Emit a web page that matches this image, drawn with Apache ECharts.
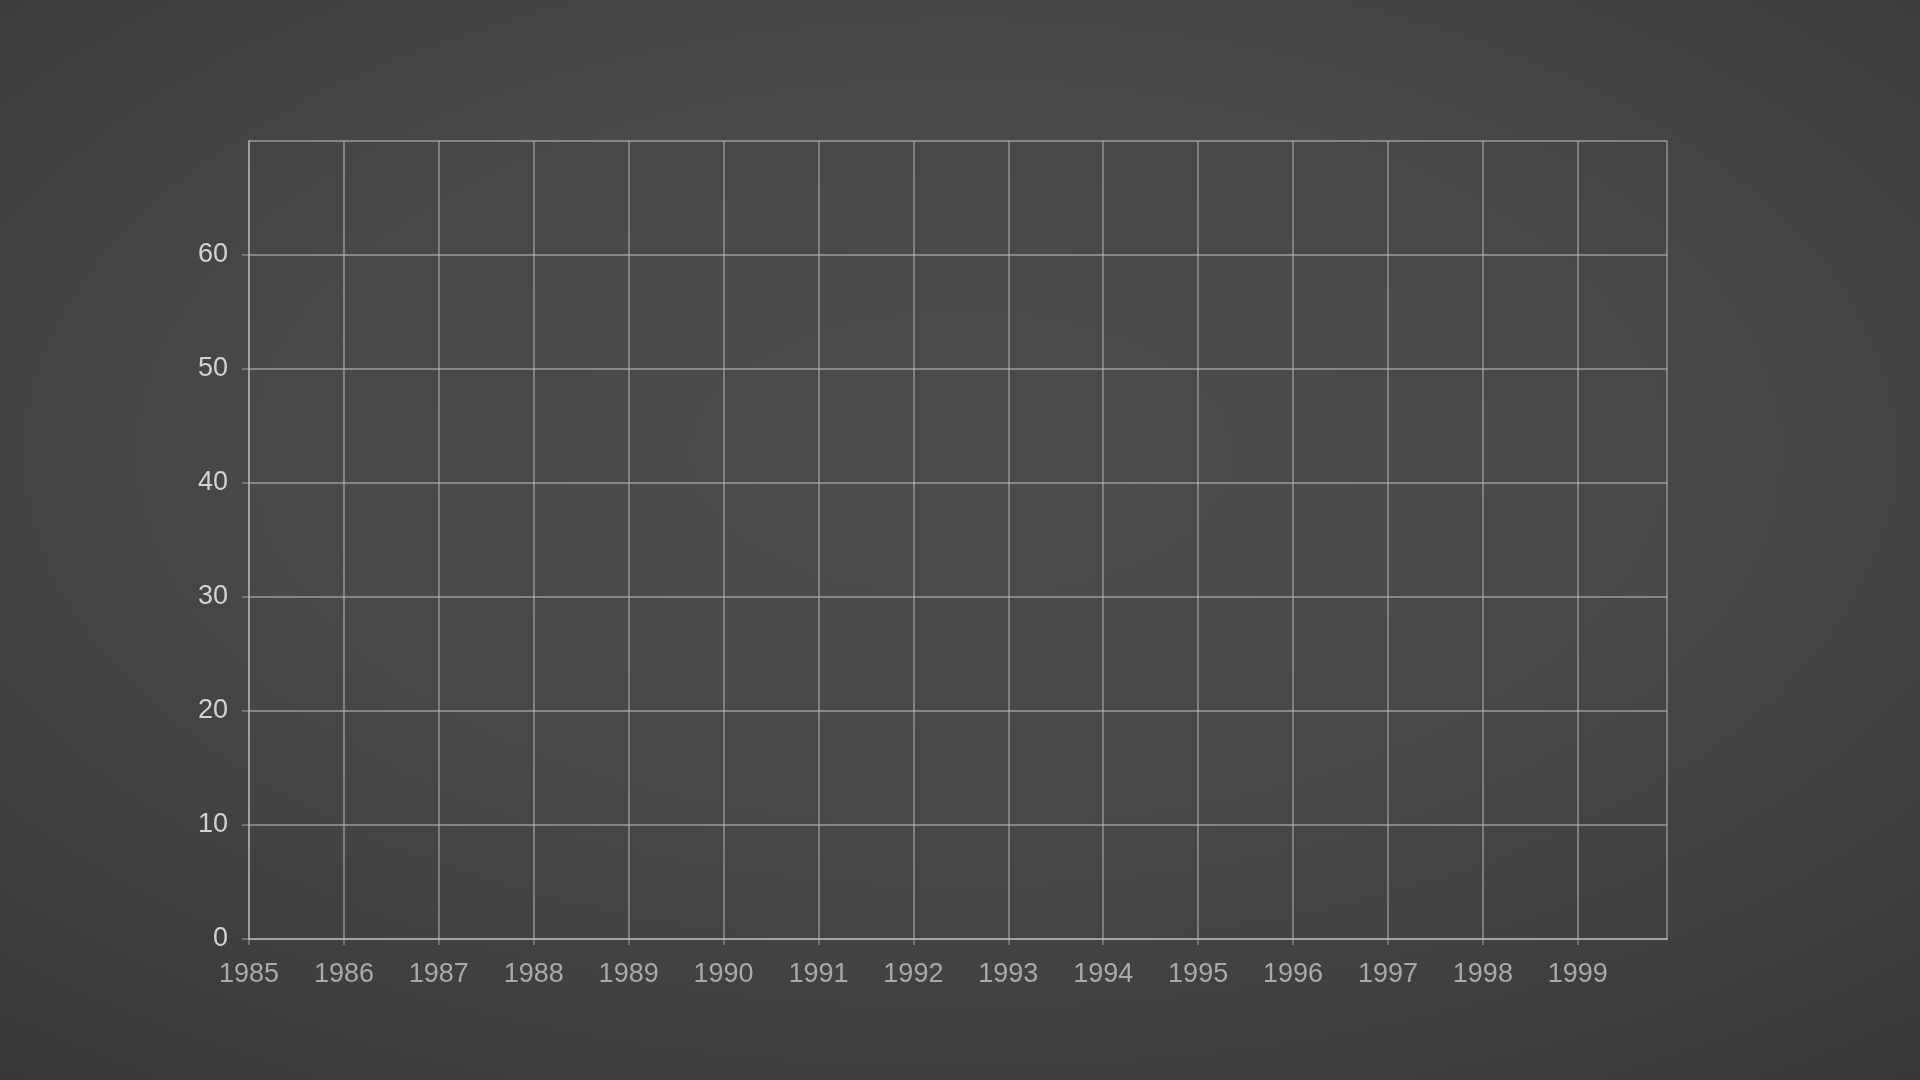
<!DOCTYPE html>
<html>
<head>
<meta charset="utf-8">
<title>Empty grid</title>
<script src="https://cdn.jsdelivr.net/npm/echarts@6/dist/echarts.min.js"></script>
<style>
  html, body { margin: 0; padding: 0; width: 100%; height: 100%; }
  body {
    background: radial-gradient(ellipse 80% 75% at 50% 42%, #4b4b4b 0%, #484848 45%, #3e3e3e 80%, #363636 100%);
  }
  #main { width: 1920px; height: 1080px; }
</style>
</head>
<body>
<div id="main"></div>
<script>
// tick labels
const yearTicks = [1985, 1986, 1987, 1988, 1989, 1990, 1991, 1992, 1993, 1994, 1995, 1996, 1997, 1998, 1999];
const valueTicks = [0, 10, 20, 30, 40, 50, 60];
// the frame ends just short of the next year, and one step above 60
const yearEnd = 1999.94;
const valueEnd = 70;
// no series values are drawn in the picture
const seriesValues = [];

const lineColor = 'rgba(185,185,185,0.55)';
const myChart = echarts.init(document.getElementById('main'), null, { renderer: 'canvas' });

let option = {
    backgroundColor: 'transparent',
    animation: false,
    grid: { left: 249, right: 253, top: 141, bottom: 141, containLabel: false },
    xAxis: {
        type: 'value',
        min: yearTicks[0],
        max: yearEnd,
        interval: 1,
        axisLine: { show: true, lineStyle: { color: lineColor, width: 2 } },
        axisTick: { show: true, length: 6, lineStyle: { color: lineColor, width: 1.5 } },
        splitLine: { show: true, lineStyle: { color: lineColor, width: 1.8 } },
        axisLabel: {
            showMaxLabel: false,
            margin: 22,
            color: '#a9a9a9',
            fontSize: 27,
            fontFamily: 'Liberation Sans, Arial, sans-serif',
            formatter: v => (yearTicks.indexOf(v) >= 0 ? String(v) : '')
        }
    },
    yAxis: {
        type: 'value',
        min: valueTicks[0],
        max: valueEnd,
        interval: 10,
        axisLine: { show: true, lineStyle: { color: lineColor, width: 2 } },
        axisTick: { show: true, length: 7, lineStyle: { color: lineColor, width: 1.5 } },
        splitLine: { show: true, lineStyle: { color: lineColor, width: 1.8 } },
        axisLabel: {
            showMaxLabel: false,
            margin: 21,
            color: '#d2d2d2',
            fontSize: 27,
            fontFamily: 'Liberation Sans, Arial, sans-serif',
            formatter: v => (valueTicks.indexOf(v) >= 0 ? String(v) : '')
        }
    },
    series: [{
        type: 'line',
        data: seriesValues
    }]
};

myChart.setOption(option);
</script>
</body>
</html>
